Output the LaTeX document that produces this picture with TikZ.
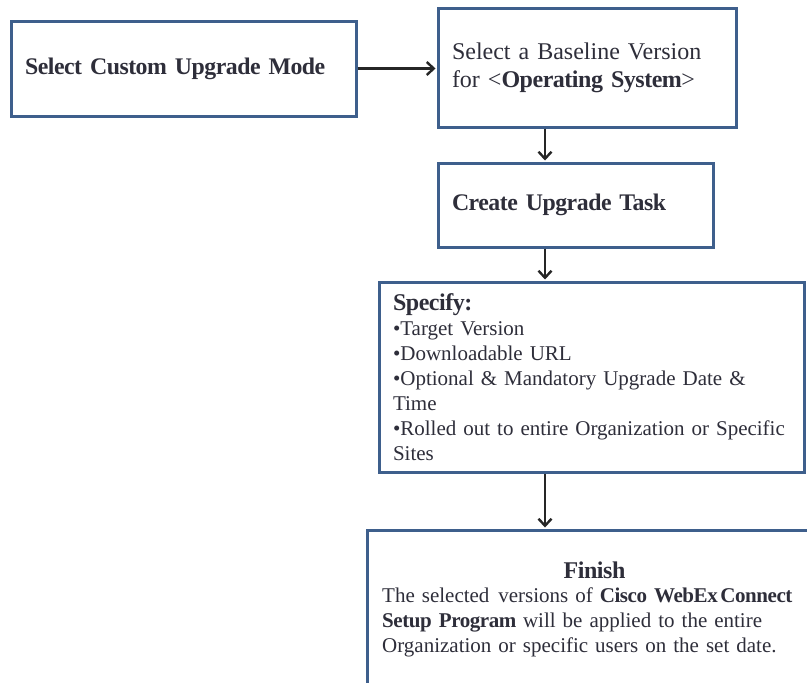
\documentclass[tikz,border=0pt]{standalone}
\usepackage{fontspec}
\setmainfont[WordSpace=0.8, BoldFeatures={LetterSpace=-2}]{Liberation Serif}
\usetikzlibrary{arrows.meta}
\definecolor{bordercol}{HTML}{3E5F8C}
\definecolor{txtcol}{HTML}{2E2E3A}
\hyphenpenalty=10000
\exhyphenpenalty=10000
\begin{document}
\begin{tikzpicture}[x=1pt,y=-1pt,
  box/.style={draw=bordercol, line width=3pt, fill=white, inner xsep=14pt, inner ysep=0pt, align=left, text=txtcol},
  arr/.style={draw=black!85, line width=2.4pt, shorten >=1pt, -{Straight Barb[length=7pt,width=13pt,line width=2.4pt]}},
  titlefont/.style={font=\fontsize{23.8}{27}\selectfont\bfseries},
  bodyfont/.style={font=\fontsize{21}{25}\selectfont}]
\useasboundingbox (0,0) rectangle (807,683);
\clip (0,0) rectangle (807,683);
\fill[white] (0,0) rectangle (807,683);

\node[box, titlefont, minimum width=345pt, minimum height=95pt, text width=317pt] (b1) at (183.5,68.5) {Select Custom Upgrade Mode};

\node[box, font=\fontsize{24}{28}\selectfont, minimum width=298pt, minimum height=119pt, text width=270pt] (b2) at (587,67.5) {Select a Baseline Version\\for <\textbf{Operating System}>};

\node[box, titlefont, minimum width=275pt, minimum height=84pt, text width=247pt] (b3) at (575.5,205) {Create Upgrade Task};

\node[box, bodyfont, minimum width=425pt, minimum height=190pt, text width=397pt] (b4) at (591.5,377) {{\fontsize{24}{28}\selectfont\bfseries Specify:}\\•Target Version\\•Downloadable URL\\•Optional \& Mandatory Upgrade Date \&\\Time\\•Rolled out to entire Organization or Specific\\Sites};

\node[box, minimum width=480pt, minimum height=160pt] (b5) at (607,610) {};
\node[text=txtcol, font=\fontsize{24}{28}\selectfont\bfseries, inner sep=0pt] (fint) at (594.5,570) {Finish};
\node[anchor=north west, inner sep=0pt, text width=422pt, align=left, bodyfont, text=txtcol] (finb) at (382,588) {\mbox{The selected\hspace{0.42em}versions of \textbf{Cisco WebEx\hspace{0.12em}Connect}}\\\textbf{Setup Program} will be applied to the entire\\Organization or specific users on the set date.};

\coordinate (ax) at (545,0);
\draw[arr] (b1.east) -- (b1.east -| b2.west);
\draw[arr] (b2.south -| ax) -- (b3.north -| ax);
\draw[arr] (b3.south -| ax) -- (b4.north -| ax);
\draw[arr] (b4.south -| ax) -- (b5.north -| ax);
\end{tikzpicture}
\end{document}
